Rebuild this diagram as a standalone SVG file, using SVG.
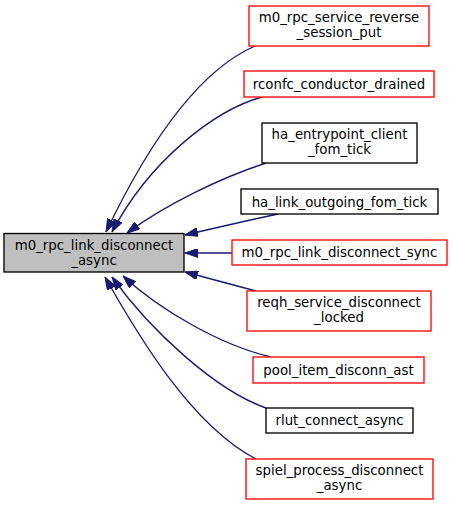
<svg xmlns="http://www.w3.org/2000/svg" width="452" height="505" viewBox="0 0 452 505">
<style>
.n rect{fill:#ffffff;stroke:#000000;stroke-width:1.33}
.n.red rect{stroke:#ff0000}
.n.main rect{fill:#bfbfbf}
.n text{font-family:"DejaVu Sans","Liberation Sans",sans-serif;font-size:13.33px;text-anchor:middle;fill:#000000}
.e path{fill:none;stroke:#191970;stroke-width:1.33;marker-end:url(#ah)}
</style>
<defs>
<marker id="ah" viewBox="0 0 13 9" markerWidth="13" markerHeight="9" refX="13" refY="4.5" markerUnits="userSpaceOnUse" orient="auto">
<path d="M0,0 L13,4.5 L0,9 Z" fill="#191970" stroke="#191970" stroke-width="1"/>
</marker>
</defs>
<g id="edges" class="e">
<path d="M255,46 C200,70 150,140 106,232"/>
<path d="M262,97 C215,110 150,160 112,232"/>
<path d="M266,163 C220,178 165,205 127,233"/>
<path d="M278,214 C250,220 215,228 185,235"/>
<path d="M232,253 L185,253"/>
<path d="M256,291 L185,272"/>
<path d="M271,357 C220,345 160,310 123,276"/>
<path d="M266,408 C215,390 150,330 112,277"/>
<path d="M256,459 C190,425 135,330 105,277"/>
</g>
<g id="main" class="n main"><rect x="4" y="233.5" width="180" height="38.5"/><text x="94" y="250">m0_rpc_link_disconnect</text><text x="94" y="264.7">_async</text></g>
<g id="n1" class="n red"><rect x="249" y="6" width="180" height="40"/><text x="339" y="22">m0_rpc_service_reverse</text><text x="339" y="36.7">_session_put</text></g>
<g id="n2" class="n red"><rect x="244" y="71" width="190" height="26"/><text x="339" y="89">rconfc_conductor_drained</text></g>
<g id="n3" class="n"><rect x="262" y="123" width="155" height="40"/><text x="339.5" y="139">ha_entrypoint_client</text><text x="339.5" y="153.7">_fom_tick</text></g>
<g id="n4" class="n"><rect x="241" y="189" width="197" height="25"/><text x="339.5" y="206.5">ha_link_outgoing_fom_tick</text></g>
<g id="n5" class="n red"><rect x="232" y="240" width="215" height="25"/><text x="339.5" y="257.3">m0_rpc_link_disconnect_sync</text></g>
<g id="n6" class="n red"><rect x="247" y="291" width="184" height="40"/><text x="339" y="307">reqh_service_disconnect</text><text x="339" y="321.7">_locked</text></g>
<g id="n7" class="n red"><rect x="253" y="357" width="171" height="26"/><text x="338.5" y="375">pool_item_disconn_ast</text></g>
<g id="n8" class="n"><rect x="266" y="408" width="147" height="25"/><text x="339.5" y="425">rlut_connect_async</text></g>
<g id="n9" class="n red"><rect x="246" y="459" width="187" height="40"/><text x="339.5" y="475">spiel_process_disconnect</text><text x="339.5" y="489.7">_async</text></g>
</svg>
